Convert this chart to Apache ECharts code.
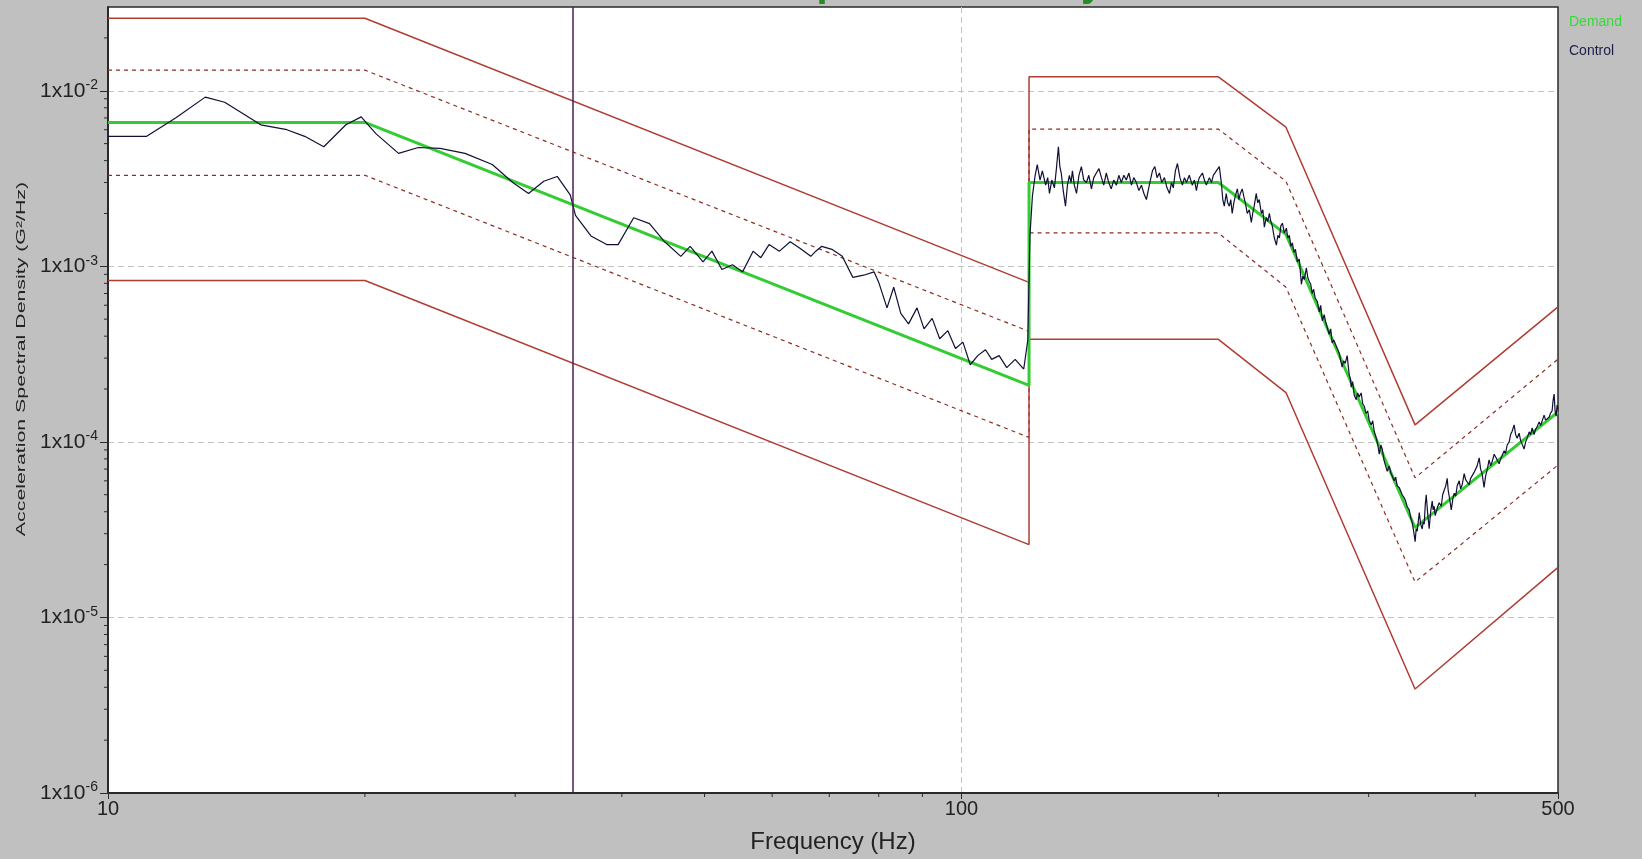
<!DOCTYPE html>
<html>
<head>
<meta charset="utf-8">
<script src="https://cdn.jsdelivr.net/npm/echarts@6/dist/echarts.min.js"></script>
<style>
  html, body { margin: 0; padding: 0; background: #c0c0c0; }
  #chart { width: 1642px; height: 859px; }
</style>
</head>
<body>
<div id="chart"></div>
<script>
// Reference profile breakpoints (Hz) shared by demand and tolerance bands
const profileFreq = [10, 20, 120, 120, 200, 240, 340, 500];
const demandPsd    = [6.6e-3, 6.6e-3, 2.1e-4, 3.0e-3, 3.0e-3, 1.52e-3, 3.25e-5, 1.48e-4];
const abortHighPsd = [0.0259, 0.0259, 8.1e-4, 0.012, 0.012, 6.2e-3, 1.25e-4, 5.87e-4];
const alarmHighPsd = [0.0131, 0.0131, 4.26e-4, 6.05e-3, 6.05e-3, 3.05e-3, 6.24e-5, 2.96e-4];
const alarmLowPsd  = [3.3e-3, 3.3e-3, 1.06e-4, 1.55e-3, 1.55e-3, 7.6e-4, 1.59e-5, 7.38e-5];
const abortLowPsd  = [8.3e-4, 8.3e-4, 2.6e-5, 3.84e-4, 3.84e-4, 1.91e-4, 3.91e-6, 1.93e-5];

// Measured control spectrum: [frequency Hz, PSD G²/Hz]
const controlSpectrum = [
  [10, 5.5e-3], [11.1, 5.5e-3], [12.0, 7.0e-3], [13.0, 9.2e-3], [13.7, 8.6e-3], [14.4, 7.4e-3],
  [15.1, 6.4e-3], [16.2, 6.0e-3], [17.0, 5.5e-3], [17.9, 4.8e-3], [19.0, 6.4e-3], [19.8, 7.1e-3],
  [20.6, 5.7e-3], [21.9, 4.4e-3], [23.1, 4.75e-3], [24.5, 4.7e-3], [26.2, 4.4e-3], [28.2, 3.8e-3],
  [29.8, 3.0e-3], [31.1, 2.6e-3], [32.4, 3.05e-3], [33.6, 3.25e-3], [34.8, 2.55e-3], [35.3, 1.95e-3],
  [36.8, 1.49e-3], [38.4, 1.33e-3], [39.6, 1.33e-3], [41.3, 1.89e-3], [43.1, 1.75e-3], [44.9, 1.38e-3],
  [46.9, 1.14e-3], [48.1, 1.30e-3], [49.8, 1.06e-3], [51.0, 1.22e-3], [52.4, 9.6e-4], [53.9, 1.02e-3],
  [55.4, 9.3e-4], [57.0, 1.22e-3], [58.2, 1.12e-3], [59.5, 1.33e-3], [61.2, 1.22e-3], [63.0, 1.38e-3],
  [64.8, 1.26e-3], [66.6, 1.14e-3], [67.5, 1.22e-3], [68.6, 1.30e-3], [70.5, 1.25e-3], [72.5, 1.14e-3],
  [74.6, 8.65e-4], [76.8, 8.9e-4], [79.0, 9.3e-4], [80.0, 8.1e-4], [81.8, 5.8e-4], [83.3, 7.6e-4],
  [84.9, 5.4e-4], [86.7, 4.7e-4], [88.7, 5.8e-4], [90.4, 4.4e-4], [92.4, 5.05e-4], [94.3, 3.87e-4],
  [96.4, 4.3e-4], [98.4, 3.4e-4], [100.4, 3.7e-4], [102.4, 2.75e-4], [104.5, 3.1e-4], [106.7, 3.35e-4],
  [108.5, 2.95e-4], [110.7, 3.1e-4], [113.0, 2.65e-4], [115.6, 2.95e-4], [118.3, 2.6e-4], [119.6, 3.8e-4],
  [120.3, 1.5e-3],
  [121.1, 2.52e-3], [122.0, 3.3e-3], [122.7, 3.8e-3], [123.6, 3.1e-3], [124.4, 3.5e-3], [125.5, 2.9e-3],
  [126.2, 3.2e-3], [126.8, 2.6e-3], [127.6, 3.1e-3], [128.5, 2.8e-3], [129.2, 3.6e-3], [129.9, 4.8e-3],
  [130.4, 3.7e-3], [130.9, 3.4e-3], [131.6, 2.7e-3], [132.4, 2.2e-3], [133.1, 2.9e-3], [133.8, 3.3e-3],
  [134.4, 3.0e-3], [134.9, 3.5e-3], [135.6, 2.9e-3], [136.4, 2.6e-3], [137.3, 3.3e-3], [138.2, 3.7e-3],
  [139.1, 3.1e-3], [140.1, 3.0e-3], [141.0, 3.3e-3], [142.0, 2.76e-3], [142.9, 3.2e-3], [143.9, 3.4e-3],
  [144.9, 3.6e-3], [145.9, 3.2e-3], [146.8, 2.9e-3], [147.8, 3.4e-3], [148.8, 3.0e-3], [149.8, 2.76e-3],
  [150.8, 3.1e-3], [151.9, 2.9e-3], [152.9, 3.3e-3], [153.9, 3.0e-3], [155.0, 3.3e-3], [156.0, 3.1e-3],
  [157.1, 3.4e-3], [158.2, 2.9e-3], [159.2, 3.2e-3], [160.3, 3.0e-3], [161.4, 2.7e-3], [162.5, 2.9e-3],
  [163.6, 2.6e-3], [164.7, 2.4e-3], [166.0, 2.9e-3], [167.4, 3.5e-3], [168.5, 3.7e-3], [169.5, 3.2e-3],
  [170.6, 3.4e-3], [171.7, 3.0e-3], [172.9, 3.2e-3], [174.1, 2.8e-3], [175.3, 2.6e-3], [176.2, 3.0e-3],
  [177.1, 2.8e-3], [178.1, 3.5e-3], [179.1, 3.85e-3], [180.3, 3.2e-3], [181.5, 2.9e-3], [182.5, 3.2e-3],
  [183.5, 3.0e-3], [184.9, 3.3e-3], [186.4, 2.9e-3], [187.5, 3.1e-3], [188.5, 2.7e-3], [189.2, 3.0e-3],
  [190.0, 3.2e-3], [191.6, 3.4e-3], [192.6, 3.1e-3], [193.6, 2.9e-3], [195.2, 3.2e-3], [196.3, 3.0e-3],
  [197.3, 3.3e-3], [198.9, 3.5e-3], [200.5, 3.7e-3], [201.6, 3.0e-3], [202.4, 2.4e-3], [203.2, 2.2e-3],
  [204.3, 2.6e-3], [205.1, 2.3e-3], [206.0, 2.2e-3], [206.8, 2.4e-3], [207.6, 2.0e-3], [208.5, 2.3e-3],
  [209.3, 2.5e-3], [210.5, 2.76e-3], [211.4, 2.4e-3], [212.2, 2.6e-3], [213.3, 2.76e-3], [214.2, 2.5e-3],
  [215.1, 2.3e-3], [216.2, 2.0e-3], [217.4, 2.1e-3], [218.6, 1.78e-3], [219.4, 2.0e-3], [220.3, 2.2e-3],
  [221.5, 2.6e-3], [222.4, 2.3e-3], [223.3, 2.4e-3], [224.6, 2.0e-3], [225.5, 2.1e-3], [226.4, 1.67e-3],
  [227.6, 1.9e-3], [228.5, 1.8e-3], [229.5, 2.0e-3], [230.4, 1.8e-3], [231.3, 1.7e-3], [232.6, 1.45e-3],
  [233.9, 1.32e-3], [234.8, 1.5e-3], [235.8, 1.45e-3], [236.7, 1.7e-3], [237.7, 1.76e-3], [239.0, 1.55e-3],
  [240.3, 1.65e-3], [241.2, 1.45e-3], [242.2, 1.5e-3], [243.2, 1.3e-3], [244.2, 1.36e-3], [245.2, 1.2e-3],
  [246.2, 1.25e-3], [247.5, 1.06e-3], [248.8, 1.1e-3], [250.2, 7.9e-4], [251.2, 8.8e-4], [252.2, 8.4e-4],
  [253.6, 9.8e-4], [254.6, 8.6e-4], [255.6, 8.2e-4], [256.6, 7.9e-4], [257.6, 7.0e-4], [258.6, 7.4e-4],
  [259.7, 6.6e-4], [261.2, 6.3e-4], [262.6, 5.5e-4], [263.6, 6.0e-4], [264.7, 4.9e-4], [266.1, 5.3e-4],
  [267.2, 4.8e-4], [268.3, 4.9e-4], [269.7, 4.1e-4], [270.8, 4.4e-4], [271.9, 3.66e-4], [273.0, 3.8e-4],
  [274.1, 3.9e-4], [275.6, 3.4e-4], [277.1, 3.2e-4], [278.2, 2.9e-4], [279.3, 2.67e-4], [280.4, 2.9e-4],
  [281.6, 2.8e-4], [283.1, 3.1e-4], [284.7, 2.4e-4], [285.5, 2.3e-4], [286.2, 2.05e-4], [287.3, 2.2e-4],
  [288.5, 1.85e-4], [290.1, 1.74e-4], [291.2, 1.9e-4], [292.4, 1.8e-4], [294.0, 1.9e-4], [295.2, 1.65e-4],
  [296.4, 1.6e-4], [298.0, 1.45e-4], [299.2, 1.5e-4], [300.4, 1.33e-4], [302.1, 1.25e-4], [303.3, 1.32e-4],
  [304.5, 1.15e-4], [306.2, 1.05e-4], [307.5, 9.6e-5], [308.7, 8.5e-5], [310.0, 9.6e-5], [311.2, 9.1e-5],
  [312.8, 7.8e-5], [314.1, 7.6e-5], [315.4, 6.8e-5], [317.1, 7.3e-5], [318.4, 6.7e-5], [319.7, 6.6e-5],
  [321.4, 6.0e-5], [322.7, 6.3e-5], [324.0, 5.6e-5], [325.8, 5.5e-5], [327.1, 5.6e-5], [328.4, 5.0e-5],
  [330.2, 4.8e-5], [331.5, 4.6e-5], [332.9, 4.27e-5], [334.7, 4.1e-5], [336.0, 3.7e-5], [337.4, 3.47e-5],
  [338.7, 3.1e-5], [340.1, 2.7e-5], [341.0, 3.2e-5], [342.0, 3.1e-5], [343.9, 3.96e-5], [345.2, 3.4e-5],
  [346.6, 3.19e-5], [347.5, 3.5e-5], [348.5, 3.4e-5], [349.5, 4.4e-5], [350.4, 5.0e-5], [351.8, 3.9e-5],
  [353.2, 3.2e-5], [354.6, 4.0e-5], [356.1, 4.6e-5], [357.0, 4.1e-5], [358.0, 4.3e-5], [359.0, 3.8e-5],
  [360.0, 3.9e-5], [361.5, 4.3e-5], [362.9, 4.5e-5], [364.9, 4.3e-5], [366.3, 5.0e-5], [367.8, 5.3e-5],
  [369.3, 5.6e-5], [370.8, 6.2e-5], [371.8, 5.3e-5], [372.8, 4.9e-5], [374.9, 4.1e-5], [376.4, 4.7e-5],
  [377.9, 5.1e-5], [379.4, 4.9e-5], [380.9, 5.6e-5], [383.0, 6.0e-5], [384.5, 5.4e-5], [386.1, 5.7e-5],
  [388.2, 6.6e-5], [389.7, 6.1e-5], [391.3, 6.2e-5], [393.4, 5.7e-5], [395.0, 6.2e-5], [396.6, 6.1e-5],
  [398.7, 6.7e-5], [400.3, 6.6e-5], [402.0, 7.3e-5], [404.2, 8.1e-5], [405.8, 7.0e-5], [407.4, 6.6e-5],
  [409.6, 5.5e-5], [411.3, 6.4e-5], [413.0, 6.9e-5], [415.2, 7.9e-5], [416.9, 7.3e-5], [418.6, 7.7e-5],
  [420.9, 8.5e-5], [422.6, 8.2e-5], [424.3, 8.0e-5], [426.6, 7.5e-5], [428.3, 8.0e-5], [430.1, 8.1e-5],
  [432.4, 8.9e-5], [434.1, 8.6e-5], [435.9, 9.6e-5], [438.3, 1.0e-4], [440.0, 1.1e-4], [441.8, 1.15e-4],
  [444.2, 1.25e-4], [446.0, 1.1e-4], [447.8, 1.05e-4], [450.2, 1.12e-4], [452.0, 1.02e-4], [453.9, 1.0e-4],
  [456.3, 9.1e-5], [458.2, 1.0e-4], [460.1, 1.05e-4], [462.6, 1.14e-4], [464.4, 1.1e-4], [466.3, 1.2e-4],
  [468.8, 1.1e-4], [470.7, 1.18e-4], [472.6, 1.22e-4], [475.2, 1.3e-4], [477.1, 1.24e-4], [479.0, 1.27e-4],
  [481.6, 1.42e-4], [483.5, 1.33e-4], [485.5, 1.32e-4], [488.1, 1.38e-4], [490.1, 1.46e-4], [492.1, 1.5e-4],
  [493.4, 1.72e-4], [494.8, 1.87e-4], [496.1, 1.5e-4], [497.5, 1.4e-4], [498.8, 1.62e-4], [500, 1.53e-4]
];

const cursorFreq = 35;

// Axis ranges and tick positions
const freqMin = 10, freqMax = 500;
const psdMin = 1e-6, psdMax = 0.03;
const xMinorTicks = [20, 30, 40, 50, 60, 70, 80, 90, 200, 300, 400];
const decadeMantissas = [2, 3, 4, 5, 6, 7, 8, 9];
const yDecades = [1e-6, 1e-5, 1e-4, 1e-3, 1e-2];

const FONT = '"Liberation Sans", Arial, sans-serif';
const yMinorTicks = [];
yDecades.forEach(d => decadeMantissas.forEach(m => {
  const v = m * d;
  if (v < psdMax) yMinorTicks.push(v);
}));

const pairs = (xs, ys) => xs.map((x, i) => [x, ys[i]]);

const chart = echarts.init(document.getElementById('chart'), null, { renderer: 'canvas' });

const bandLine = (name, ys, dashed) => ({
  name,
  type: 'line',
  data: pairs(profileFreq, ys),
  showSymbol: false,
  silent: true,
  z: 2,
  lineStyle: dashed
    ? { color: '#8e2d22', width: 1.2, type: [4, 4] }
    : { color: '#b03c33', width: 1.5 }
});

const gridLineStyle = { color: '#c4c4c4', type: [6, 4], width: 1 };

chart.setOption({
  animation: false,
  backgroundColor: '#c0c0c0',
  title: {
    text: 'Acceleration Spectral Density',
    left: 'center',
    top: -40,
    textStyle: { color: '#2a8a2a', fontSize: 40, fontWeight: 'bold', fontFamily: FONT }
  },
  legend: {
    orient: 'vertical',
    left: 1563,
    top: 10,
    itemWidth: 0,
    itemHeight: 0,
    itemGap: 15,
    selectedMode: false,
    textStyle: { fontSize: 14, fontFamily: FONT, padding: [0, 0, 0, -5] },
    data: [
      { name: 'Demand', textStyle: { color: '#36d936' } },
      { name: 'Control', textStyle: { color: '#1c1c48' } }
    ]
  },
  grid: {
    left: 108, right: 84, top: 7, bottom: 53,
    show: true,
    backgroundColor: '#ffffff',
    borderColor: '#2a2a2a',
    borderWidth: 1.5
  },
  xAxis: {
    type: 'log',
    logBase: 10,
    min: freqMin,
    max: freqMax,
    name: 'Frequency (Hz)',
    nameLocation: 'middle',
    nameGap: 37,
    nameTextStyle: { fontSize: 24, color: '#222', fontFamily: FONT },
    axisLine: { show: true, onZero: false, lineStyle: { color: '#2a2a2a', width: 2 } },
    axisTick: { show: true, inside: false, length: 6, lineStyle: { color: '#2a2a2a' } },
    axisLabel: {
      fontSize: 20, color: '#222', fontFamily: FONT, margin: 6,
      showMinLabel: true, showMaxLabel: true,
      formatter: v => String(Math.round(v))
    },
    splitLine: { show: true, showMinLine: false, showMaxLine: false, lineStyle: gridLineStyle }
  },
  yAxis: {
    type: 'log',
    logBase: 10,
    min: psdMin,
    max: psdMax,
    axisLine: { show: true, onZero: false, lineStyle: { color: '#2a2a2a', width: 2 } },
    axisTick: { show: true, inside: false, length: 8, lineStyle: { color: '#2a2a2a' } },
    axisLabel: {
      color: '#222', margin: 10,
      showMinLabel: true, showMaxLabel: false,
      formatter: v => '{b|1x10}{s|' + Math.round(Math.log10(v)) + '}',
      rich: {
        b: { fontSize: 21, fontFamily: FONT, color: '#222' },
        s: { fontSize: 14, fontFamily: FONT, color: '#222', padding: [0, 0, 11, 0] }
      }
    },
    splitLine: { show: true, showMinLine: false, showMaxLine: false, lineStyle: gridLineStyle }
  },
  graphic: [{
    type: 'text',
    x: 21,
    y: 359,
    rotation: Math.PI / 2,
    scaleX: 1.64,
    style: {
      text: 'Acceleration Spectral Density (G²/Hz)',
      font: '13px ' + FONT,
      fill: '#222',
      align: 'center',
      verticalAlign: 'middle'
    }
  }],
  series: [
    bandLine('Abort high', abortHighPsd, false),
    bandLine('Alarm high', alarmHighPsd, true),
    bandLine('Alarm low', alarmLowPsd, true),
    bandLine('Abort low', abortLowPsd, false),
    {
      name: 'Demand',
      type: 'line',
      data: pairs(profileFreq, demandPsd),
      showSymbol: false,
      z: 3,
      lineStyle: { color: '#33cc33', width: 3 },
      itemStyle: { color: '#33cc33' }
    },
    {
      name: 'Control',
      type: 'line',
      data: controlSpectrum,
      showSymbol: false,
      z: 4,
      lineStyle: { color: '#101035', width: 1.2 },
      itemStyle: { color: '#101035' },
      markLine: {
        silent: true,
        symbol: 'none',
        label: { show: false },
        lineStyle: { color: '#4a2050', width: 1.5, type: 'solid' },
        data: [{ xAxis: cursorFreq }]
      }
    },
    {
      // log-spaced minor ticks on both axes
      name: 'minor ticks',
      type: 'custom',
      silent: true,
      clip: false,
      z: 10,
      data: [[freqMin, psdMin]],
      renderItem: (params, api) => {
        const corner = api.coord([freqMin, psdMin]);
        const children = [];
        xMinorTicks.forEach(f => {
          const x = api.coord([f, psdMin])[0];
          children.push({ type: 'line', shape: { x1: x, y1: corner[1], x2: x, y2: corner[1] + 4 },
            style: { stroke: '#2a2a2a', lineWidth: 1 } });
        });
        yMinorTicks.forEach(v => {
          const y = api.coord([freqMin, v])[1];
          children.push({ type: 'line', shape: { x1: corner[0] - 4, y1: y, x2: corner[0], y2: y },
            style: { stroke: '#2a2a2a', lineWidth: 1 } });
        });
        return { type: 'group', children };
      }
    }
  ]
});
</script>
</body>
</html>
